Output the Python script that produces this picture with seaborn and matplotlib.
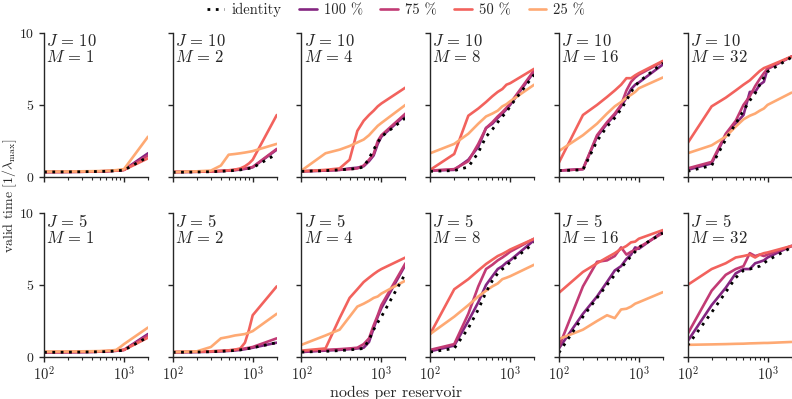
"""
Valid time vs. reservoir size, for several sampling fractions.
"""

import matplotlib.pyplot as plt
import matplotlib.ticker as mticker
from matplotlib.lines import Line2D
import pandas as pd
import seaborn as sns

nodes = [100, 200, 300, 400, 500, 600, 700, 800, 900, 1000, 2000]
reservoirs = [1, 2, 4, 8, 16, 32]
j_values = [10, 5]
fractions = ["100 %", "75 %", "50 %", "25 %"]

# one list per M (columns), values at each node count
j10_identity = [
    [0.35, 0.36, 0.37, 0.38, 0.39, 0.40, 0.42, 0.44, 0.46, 0.48, 1.40],
    [0.33, 0.35, 0.37, 0.40, 0.43, 0.46, 0.50, 0.55, 0.60, 0.65, 1.60],
    [0.40, 0.45, 0.50, 0.55, 0.60, 0.70, 1.30, 1.90, 2.40, 2.80, 4.10],
    [0.40, 0.45, 0.70, 1.70, 2.80, 3.30, 3.80, 4.20, 4.50, 4.90, 7.10],
    [0.45, 0.50, 2.50, 3.50, 4.10, 4.70, 5.30, 5.90, 6.30, 6.60, 7.90],
    [0.40, 0.80, 2.60, 3.70, 4.60, 5.30, 5.80, 6.40, 6.90, 7.30, 8.30],
]
j10_p100 = [
    [0.35, 0.36, 0.37, 0.38, 0.40, 0.41, 0.43, 0.45, 0.47, 0.50, 1.65],
    [0.35, 0.37, 0.39, 0.42, 0.45, 0.48, 0.52, 0.57, 0.62, 0.68, 1.90],
    [0.40, 0.45, 0.50, 0.60, 0.65, 0.75, 1.10, 1.50, 2.30, 2.80, 4.30],
    [0.45, 0.50, 1.20, 2.10, 3.40, 3.70, 4.10, 4.40, 4.70, 5.00, 7.30],
    [0.45, 0.55, 2.80, 3.70, 4.30, 4.90, 5.50, 6.10, 6.40, 6.55, 7.80],
    [0.50, 0.95, 2.90, 3.70, 4.30, 5.90, 5.90, 6.40, 6.60, 7.50, 8.35],
]
j10_p75 = [
    [0.35, 0.36, 0.37, 0.38, 0.40, 0.41, 0.43, 0.45, 0.47, 0.50, 1.50],
    [0.35, 0.37, 0.39, 0.42, 0.45, 0.50, 0.55, 0.60, 0.65, 0.70, 1.95],
    [0.40, 0.45, 0.50, 0.55, 0.60, 0.80, 1.20, 1.60, 2.50, 2.90, 4.40],
    [0.45, 0.55, 1.10, 2.30, 3.40, 3.80, 4.20, 4.50, 4.80, 5.10, 7.40],
    [0.45, 0.55, 2.90, 3.80, 4.40, 5.00, 6.00, 6.60, 6.90, 7.10, 8.00],
    [0.60, 1.05, 3.00, 3.90, 5.00, 5.60, 6.30, 6.80, 7.20, 7.50, 8.35],
]
j10_p50 = [
    [0.35, 0.36, 0.37, 0.38, 0.40, 0.41, 0.43, 0.45, 0.47, 0.50, 1.30],
    [0.35, 0.37, 0.40, 0.43, 0.47, 0.52, 0.60, 0.75, 0.95, 1.20, 4.30],
    [0.40, 0.50, 0.60, 1.20, 3.20, 3.90, 4.30, 4.60, 4.90, 5.10, 6.20],
    [0.50, 1.60, 4.25, 4.75, 5.20, 5.60, 5.90, 6.10, 6.40, 6.50, 7.50],
    [1.00, 4.30, 5.00, 5.55, 6.00, 6.40, 6.85, 6.85, 7.05, 7.20, 8.05],
    [2.35, 4.90, 5.50, 6.00, 6.40, 6.70, 7.05, 7.35, 7.55, 7.65, 8.35],
]
j10_p25 = [
    [0.38, 0.39, 0.40, 0.41, 0.42, 0.44, 0.46, 0.48, 0.52, 0.55, 2.80],
    [0.35, 0.40, 0.45, 0.80, 1.55, 1.60, 1.65, 1.70, 1.75, 1.80, 2.30],
    [0.45, 1.65, 1.90, 2.15, 2.40, 2.60, 2.90, 3.25, 3.55, 3.75, 5.00],
    [1.65, 2.30, 3.00, 3.70, 4.20, 4.40, 4.60, 4.90, 5.05, 5.25, 6.40],
    [1.80, 2.90, 3.70, 4.40, 4.90, 5.20, 5.50, 5.70, 5.90, 6.15, 6.90],
    [1.65, 2.20, 2.80, 3.50, 4.00, 4.25, 4.40, 4.60, 4.75, 5.00, 5.85],
]

j5_identity = [
    [0.33, 0.34, 0.35, 0.36, 0.37, 0.38, 0.40, 0.42, 0.45, 0.48, 1.40],
    [0.33, 0.35, 0.37, 0.40, 0.43, 0.46, 0.50, 0.55, 0.60, 0.65, 1.00],
    [0.35, 0.40, 0.45, 0.50, 0.55, 0.60, 1.20, 1.90, 2.40, 2.80, 5.80],
    [0.35, 0.60, 2.00, 3.30, 4.50, 5.30, 5.80, 6.10, 6.30, 6.60, 7.90],
    [0.30, 2.80, 4.10, 5.00, 5.70, 6.20, 6.60, 7.00, 7.30, 7.60, 8.60],
    [0.80, 3.10, 4.50, 5.50, 6.00, 6.10, 6.20, 6.30, 6.50, 6.70, 7.60],
]
j5_p100 = [
    [0.33, 0.34, 0.35, 0.36, 0.38, 0.40, 0.42, 0.44, 0.47, 0.50, 1.60],
    [0.33, 0.35, 0.37, 0.40, 0.43, 0.46, 0.50, 0.55, 0.60, 0.65, 1.00],
    [0.35, 0.45, 0.50, 0.55, 0.60, 0.65, 1.05, 2.00, 2.80, 3.40, 6.40],
    [0.40, 0.80, 2.50, 3.80, 5.00, 5.60, 6.10, 6.30, 6.55, 6.70, 8.10],
    [0.60, 3.00, 4.20, 5.20, 6.00, 6.30, 6.80, 7.10, 7.60, 7.50, 8.70],
    [1.10, 3.60, 4.80, 5.80, 6.10, 6.10, 6.50, 6.60, 6.70, 6.90, 7.70],
]
j5_p75 = [
    [0.33, 0.34, 0.35, 0.36, 0.38, 0.40, 0.42, 0.44, 0.47, 0.50, 1.50],
    [0.35, 0.37, 0.40, 0.43, 0.46, 0.50, 0.55, 0.60, 0.65, 0.70, 1.30],
    [0.40, 0.50, 0.55, 0.60, 0.65, 0.90, 1.30, 2.20, 2.90, 3.60, 6.50],
    [0.50, 0.90, 3.00, 4.90, 6.10, 6.40, 6.70, 6.90, 7.10, 7.30, 8.20],
    [0.70, 4.90, 6.60, 6.70, 7.00, 7.60, 7.10, 7.30, 7.40, 7.60, 8.60],
    [1.60, 4.60, 5.70, 6.10, 6.30, 7.20, 7.00, 7.10, 7.00, 7.10, 7.70],
]
j5_p50 = [
    [0.35, 0.36, 0.37, 0.38, 0.40, 0.42, 0.44, 0.46, 0.48, 0.50, 1.35],
    [0.35, 0.37, 0.40, 0.43, 0.47, 0.52, 0.60, 1.00, 1.90, 2.90, 4.90],
    [0.45, 0.60, 2.70, 4.10, 4.70, 5.20, 5.50, 5.75, 5.95, 6.10, 6.90],
    [1.60, 4.70, 5.40, 6.00, 6.45, 6.75, 7.00, 7.15, 7.30, 7.45, 8.20],
    [4.45, 5.90, 6.50, 6.90, 7.20, 7.50, 7.70, 7.95, 8.00, 8.20, 8.80],
    [5.00, 6.10, 6.50, 6.90, 7.00, 7.10, 6.90, 7.10, 7.20, 7.25, 7.70],
]
j5_p25 = [
    [0.38, 0.39, 0.40, 0.41, 0.42, 0.44, 0.46, 0.50, 0.70, 0.90, 2.05],
    [0.35, 0.40, 0.70, 1.30, 1.40, 1.50, 1.55, 1.60, 1.70, 1.80, 3.00],
    [0.85, 1.50, 1.90, 2.80, 3.50, 3.70, 3.90, 4.10, 4.20, 4.40, 5.30],
    [1.60, 2.80, 3.60, 4.20, 4.60, 4.90, 5.10, 5.40, 5.50, 5.60, 6.40],
    [1.25, 1.90, 2.50, 2.90, 2.70, 3.30, 3.35, 3.50, 3.70, 3.80, 4.50],
    [0.85, 0.88, 0.90, 0.92, 0.93, 0.95, 0.96, 0.97, 0.98, 0.98, 1.05],
]

identity_rows = {10: j10_identity, 5: j5_identity}
series_rows = {
    10: [j10_p100, j10_p75, j10_p50, j10_p25],
    5: [j5_p100, j5_p75, j5_p50, j5_p25],
}

sns.set_theme(style="ticks")
plt.rcParams.update({
    "font.family": ["cmr10", "DejaVu Serif"],
    "mathtext.fontset": "cm",
    "axes.formatter.use_mathtext": True,
    "font.size": 11,
    "axes.linewidth": 1.0,
    "xtick.major.size": 3.5,
    "ytick.major.size": 3.5,
    "xtick.minor.size": 2.0,
    "xtick.major.width": 1.0,
    "ytick.major.width": 1.0,
    "xtick.minor.width": 0.8,
    "xtick.major.pad": 3.0,
    "xtick.labelsize": 10.5,
    "ytick.labelsize": 10,
})

magma = sns.color_palette("magma", as_cmap=True)
palette = dict(zip(fractions, [magma(v) for v in (0.38, 0.53, 0.67, 0.82)]))

fig, axes = plt.subplots(2, 6, figsize=(7.92, 3.99), dpi=100, sharex=True, sharey=True)
fig.subplots_adjust(left=0.0556, right=0.9995, top=0.918, bottom=0.105,
                    wspace=0.2375, hspace=0.247)

for r, j in enumerate(j_values):
    for c, m in enumerate(reservoirs):
        ax = axes[r, c]
        frames = []
        for frac, rows in zip(fractions, series_rows[j]):
            frames.append(pd.DataFrame({"nodes": nodes, "valid": rows[c], "fraction": frac}))
        df = pd.concat(frames, ignore_index=True)
        sns.lineplot(data=df, x="nodes", y="valid", hue="fraction", hue_order=fractions,
                     palette=palette, lw=1.9, ax=ax, legend=False)
        sns.lineplot(x=nodes, y=identity_rows[j][c], color="black", lw=2.0,
                     linestyle=(0, (1, 2)), ax=ax)
        ax.set_xscale("log")
        ax.set_xlim(100, 2000)
        ax.set_ylim(0, 10)
        ax.set_yticks([0, 5, 10])
        ax.set_xlabel("")
        ax.set_ylabel("")
        ax.xaxis.set_major_locator(mticker.LogLocator(base=10))
        ax.xaxis.set_minor_locator(mticker.LogLocator(base=10, subs=range(2, 10)))
        ax.xaxis.set_minor_formatter(mticker.NullFormatter())
        ax.text(0.02, 0.995, f"$J\\,=\\,{j}$\n$M\\,=\\,{m}$", transform=ax.transAxes,
                va="top", ha="left", fontsize=12, linespacing=0.95)
        sns.despine(ax=ax)

fig.text(0.012, 0.51, r"valid time $[1/\lambda_{\max}]$", rotation=90,
         va="center", ha="center", fontsize=10)
fig.text(0.5, 0.016, "nodes per reservoir", ha="center", va="center", fontsize=11.5)

handles = [Line2D([], [], color="black", lw=2.0, linestyle=(0, (1, 2)))]
handles += [Line2D([], [], color=palette[f], lw=1.9) for f in fractions]
fig.legend(handles, ["identity"] + fractions, loc="upper center", ncol=5,
           frameon=False, bbox_to_anchor=(0.5, 1.025), handlelength=1.2,
           handletextpad=0.5, columnspacing=1.2, fontsize=10.5)

fig.savefig("out.png", dpi=100)
